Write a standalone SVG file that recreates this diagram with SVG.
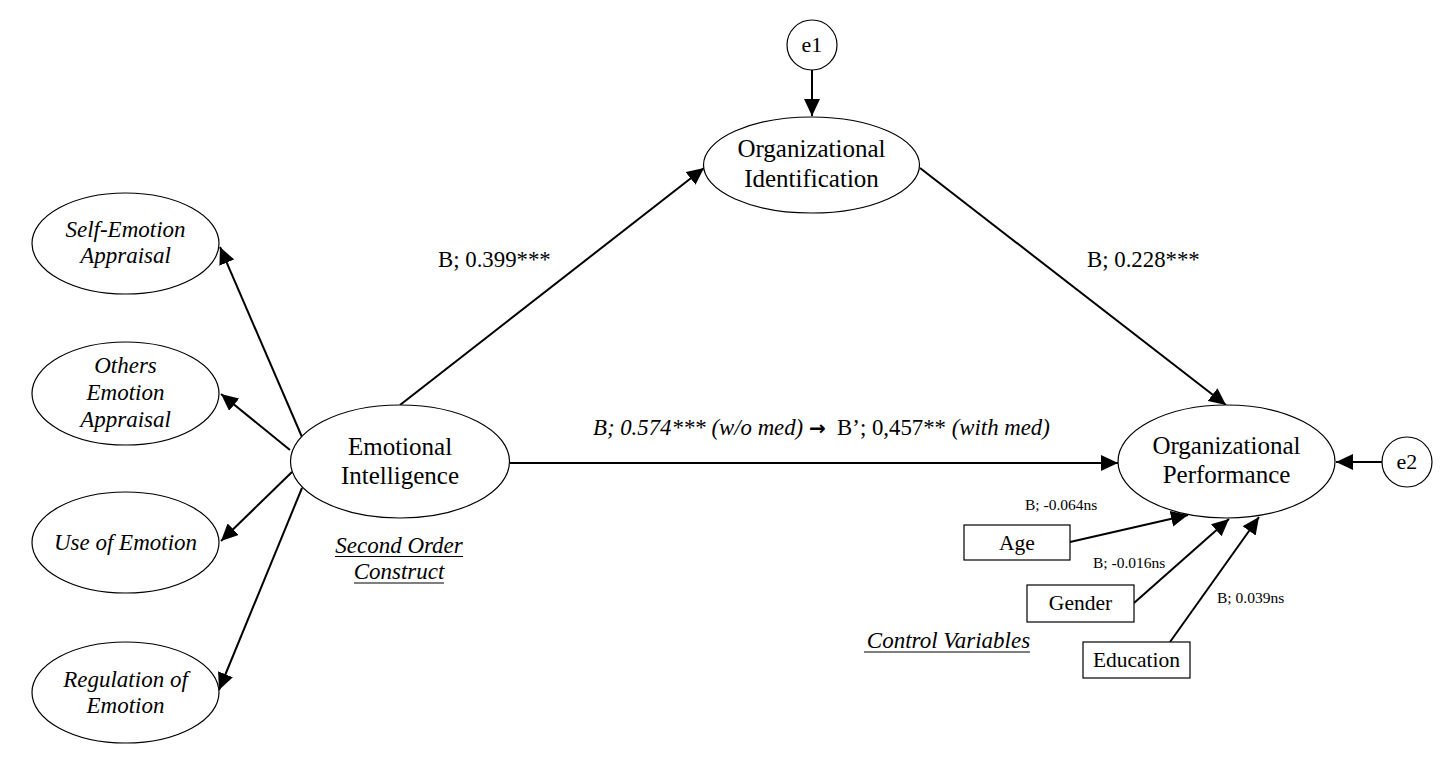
<svg xmlns="http://www.w3.org/2000/svg" width="1455" height="767" viewBox="0 0 1455 767">
<style>
text{font-family:"Liberation Serif","Times New Roman",serif;fill:#000}
.n{font-size:25px;text-anchor:middle}
.e{font-size:22px;text-anchor:middle}
.i{font-size:23px;font-style:italic;text-anchor:middle}
.l{font-size:22.8px}
.s{font-size:15.5px}
.b{font-size:21.5px;text-anchor:middle}
.nd ellipse,.nd circle,.nd rect{fill:#fff;stroke:#000;stroke-width:1.2}
.c line{stroke:#000;stroke-width:2;marker-end:url(#ah)}
.u{stroke:#000;stroke-width:1.2}
</style>
<defs>
<marker id="ah" markerUnits="userSpaceOnUse" markerWidth="18" markerHeight="16" refX="17" refY="8" orient="auto">
<path d="M0,0 L17,8 L0,16 z" fill="#000"/>
</marker>
</defs>
<rect x="0" y="0" width="1455" height="767" fill="#fff"/>
<g class="c" id="connectors">
<line x1="812" y1="70" x2="812" y2="116"/>
<line x1="400" y1="405" x2="704" y2="168"/>
<line x1="920" y1="168" x2="1226" y2="405"/>
<line x1="510" y1="463" x2="1118" y2="463"/>
<line x1="1382" y1="462" x2="1336" y2="462"/>
<line x1="302" y1="437" x2="220" y2="247"/>
<line x1="290" y1="450" x2="221" y2="394"/>
<line x1="292" y1="472" x2="221" y2="541"/>
<line x1="302" y1="488" x2="219" y2="690"/>
<line x1="1070" y1="542" x2="1188" y2="515"/>
<line x1="1134" y1="603" x2="1229" y2="519"/>
<line x1="1170" y1="642" x2="1259" y2="517"/>
</g>
<g class="nd" id="e1"><circle cx="812" cy="45" r="25"/><text class="e" x="812" y="52">e1</text></g>
<g class="nd" id="e2"><circle cx="1407" cy="462" r="25"/><text class="e" x="1407" y="469">e2</text></g>
<g class="nd" id="oi"><ellipse cx="811.5" cy="165" rx="108" ry="48"/><text class="n" x="811.5" y="157">Organizational</text><text class="n" x="811.5" y="187">Identification</text></g>
<g class="nd" id="ei"><ellipse cx="400" cy="461.5" rx="109.5" ry="56.5"/><text class="n" x="400" y="455">Emotional</text><text class="n" x="400" y="484">Intelligence</text></g>
<g class="nd" id="op"><ellipse cx="1226.5" cy="461.5" rx="108.5" ry="56.5"/><text class="n" x="1226.5" y="454">Organizational</text><text class="n" x="1226.5" y="483">Performance</text></g>
<g class="nd" id="sea"><ellipse cx="125.5" cy="243.5" rx="93.5" ry="50.5"/><text class="i" x="125.5" y="237">Self-Emotion</text><text class="i" x="125.5" y="263">Appraisal</text></g>
<g class="nd" id="oea"><ellipse cx="125.5" cy="393.5" rx="93.5" ry="51.5"/><text class="i" x="125.5" y="373">Others</text><text class="i" x="125.5" y="400">Emotion</text><text class="i" x="125.5" y="427">Appraisal</text></g>
<g class="nd" id="uoe"><ellipse cx="125.5" cy="542.5" rx="93.5" ry="50.5"/><text class="i" x="125.5" y="550">Use of Emotion</text></g>
<g class="nd" id="roe"><ellipse cx="125.5" cy="692.5" rx="93.5" ry="50.5"/><text class="i" x="125.5" y="687">Regulation of</text><text class="i" x="125.5" y="713">Emotion</text></g>
<g class="nd" id="age"><rect x="964" y="525" width="106" height="35"/><text class="b" x="1017" y="550">Age</text></g>
<g class="nd" id="gender"><rect x="1027" y="585" width="107" height="37"/><text class="b" x="1080.5" y="610">Gender</text></g>
<g class="nd" id="education"><rect x="1083" y="642" width="107" height="36"/><text class="b" x="1136.5" y="667">Education</text></g>
<g id="labels">
<text class="l" x="438" y="267">B; 0.399***</text>
<text class="l" x="1087" y="267">B; 0.228***</text>
<text class="l" x="593" y="435" font-size="21.5"><tspan font-style="italic">B; 0.574*** (w/o med)</tspan>&#160;<tspan font-weight="bold" font-family="DejaVu Sans, sans-serif" font-size="20">→</tspan>&#160;&#160;B’; 0,457** <tspan font-style="italic">(with med)</tspan></text>
<text class="s" x="1025" y="510">B; -0.064ns</text>
<text class="s" x="1093" y="568">B; -0.016ns</text>
<text class="s" x="1217" y="603">B; 0.039ns</text>
<text class="i" x="399" y="553">Second Order</text>
<line class="u" x1="335" y1="556.5" x2="463" y2="556.5"/>
<text class="i" x="399" y="579">Construct</text>
<line class="u" x1="354" y1="583" x2="444" y2="583"/>
<text class="i" x="948.5" y="648">Control Variables</text>
<line class="u" x1="864" y1="652" x2="1030" y2="652"/>
</g>
</svg>
